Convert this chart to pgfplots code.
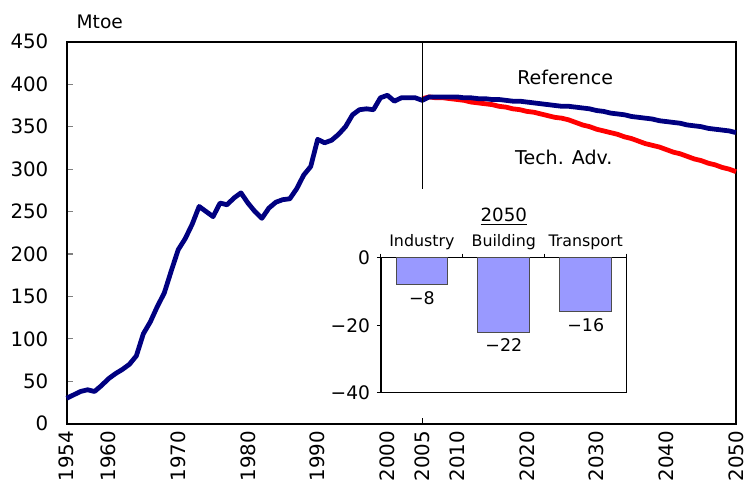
\documentclass[border=0pt]{standalone}
\usepackage{fontspec}
\setmainfont{DejaVu Sans}
\usepackage{pgfplots}
\pgfplotsset{compat=1.18}

\definecolor{refblue}{RGB}{0,0,128}
\definecolor{techred}{RGB}{255,0,0}
\definecolor{barfill}{RGB}{153,153,255}

\begin{document}
\begin{tikzpicture}
% main chart: 1px of the reference = 0.5bp
\begin{axis}[
  at={(0,0)}, anchor=south west,
  scale only axis, width=336.5bp, height=192bp,
  xmin=1954, xmax=2050, ymin=0, ymax=450,
  axis line style={line width=1bp},
  /pgf/number format/assume math mode=true,
  tick label style={font=\fontsize{10}{12}\selectfont},
  xtick={1954,1960,1970,1980,1990,2000,2005,2010,2020,2030,2040,2050},
  xtick style={draw=none},
  extra x ticks={2005}, extra x tick labels={},
  extra x tick style={xtick style={draw=black, line width=0.5bp}},
  xticklabel style={rotate=90, anchor=east, inner sep=3.5bp,
    /pgf/number format/1000 sep={}},
  ytick={0,50,...,450},
  tick align=inside, ytick pos=left, xtick pos=lower,
  major tick length=3bp,
  ytick style={gray, line width=0.6bp},
  yticklabel style={anchor=east, inner sep=0pt, xshift=-9bp},
  clip=false]

% Tech. Adv. projection
\addplot[techred, line width=2.4bp, line join=round] coordinates {
  (2005,383) (2006,385) (2007,384) (2008,384) (2009,383) (2010,382)
  (2011,381) (2012,379) (2013,378) (2014,377) (2015,376) (2016,374)
  (2017,373) (2018,371) (2019,370) (2020,368) (2021,367) (2022,365)
  (2023,363) (2024,361) (2025,360) (2026,358) (2027,355) (2028,352)
  (2029,350) (2030,347) (2031,345) (2032,343) (2033,341) (2034,338)
  (2035,336) (2036,333) (2037,330) (2038,328) (2039,326) (2040,323)
  (2041,320) (2042,318) (2043,315) (2044,312) (2045,310) (2046,307)
  (2047,305) (2048,302) (2049,300) (2050,297)};

% history + Reference projection
\addplot[refblue, line width=2.4bp, line join=round] coordinates {
  (1954,30) (1955,34) (1956,38) (1957,40) (1958,38) (1959,45)
  (1960,53) (1961,59) (1962,64) (1963,70) (1964,80) (1965,106)
  (1966,120) (1967,138) (1968,154) (1969,180) (1970,205) (1971,218)
  (1972,235) (1973,256) (1974,250) (1975,244) (1976,260) (1977,258)
  (1978,266) (1979,272) (1980,260) (1981,250) (1982,242) (1983,254)
  (1984,261) (1985,264) (1986,265) (1987,277) (1988,293) (1989,303)
  (1990,335) (1991,331) (1992,334) (1993,341) (1994,350) (1995,364)
  (1996,370) (1997,371) (1998,370) (1999,384) (2000,387) (2001,380)
  (2002,384) (2003,384) (2004,384) (2005,381)
  (2006,385) (2007,385) (2008,385) (2009,385) (2010,385) (2011,384)
  (2012,384) (2013,383) (2014,383) (2015,382) (2016,382) (2017,381)
  (2018,380) (2019,380) (2020,379) (2021,378) (2022,377) (2023,376)
  (2024,375) (2025,374) (2026,374) (2027,373) (2028,372) (2029,371)
  (2030,369) (2031,368) (2032,366) (2033,365) (2034,364) (2035,362)
  (2036,361) (2037,360) (2038,359) (2039,357) (2040,356) (2041,355)
  (2042,354) (2043,352) (2044,351) (2045,350) (2046,348) (2047,347)
  (2048,346) (2049,345) (2050,343)};

\draw[line width=0.5bp] (axis cs:2005,277) -- (axis cs:2005,450);

\node[anchor=west, font=\fontsize{9.4}{11}\selectfont]
  at (rel axis cs:0,1) [xshift=1.5bp, yshift=10bp] {Mtoe};
\node[font=\fontsize{9.6}{11}\selectfont] at (axis cs:2025.5,408) {Reference};
\node[font=\fontsize{9.6}{11}\selectfont] at (axis cs:2025.3,314) {Tech. Adv.};
\end{axis}

% inset: change in 2050 by sector
\begin{axis}[
  at={(158bp,15.5bp)}, anchor=south west,
  scale only axis, width=123.5bp, height=68bp,
  xmin=0.5, xmax=3.5, ymin=-40, ymax=0,
  axis line style={line width=0.6bp},
  ybar, bar width=26bp,
  xtick={0.5,1.5,2.5,3.5}, xticklabels={},
  xtick pos=upper, ytick pos=left,
  tick align=outside, major tick length=2bp,
  tick style={black, line width=0.5bp},
  ytick={-40,-20,0}, yticklabels={−40,−20,0},
  yticklabel style={font=\fontsize{9.4}{11}\selectfont},
  point meta=explicit symbolic,
  nodes near coords,
  every node near coord/.append style={anchor=north, inner sep=3bp,
    font=\fontsize{8.8}{10}\selectfont},
  clip=false]
\addplot[fill=barfill, draw=black!70, line width=0.5bp] coordinates {
  (1,-8) [−8]
  (2,-22) [−22]
  (3,-16) [−16]};
\node[font=\fontsize{8}{9}\selectfont, anchor=base]
  at (axis cs:1,0) [yshift=5.5bp] {Industry};
\node[font=\fontsize{8}{9}\selectfont, anchor=base]
  at (axis cs:2,0) [yshift=5.5bp] {Building};
\node[font=\fontsize{8}{9}\selectfont, anchor=base]
  at (axis cs:3,0) [yshift=5.5bp] {Transport};
\node[font=\fontsize{9.2}{11}\selectfont, anchor=base]
  at (axis cs:2,0) [yshift=18bp] {\underline{2050}};
\end{axis}

\pgfresetboundingbox
\useasboundingbox (-33.5bp,-32bp) rectangle (342bp,213bp);
\end{tikzpicture}
\end{document}
